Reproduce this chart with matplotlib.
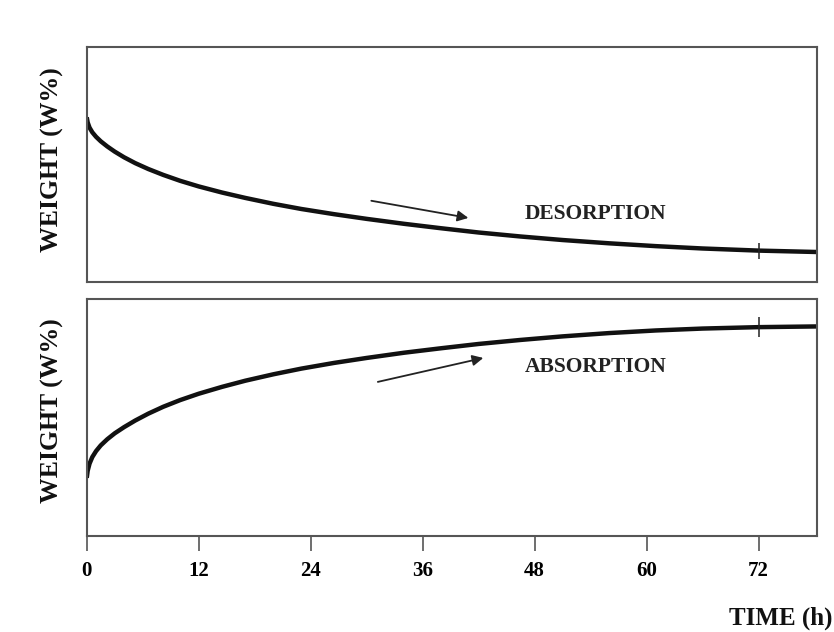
import matplotlib.pyplot as plt

# desorption curve (hours, relative weight)
des_t = [0, 0.1, 0.3, 0.6, 1, 1.5, 2.2, 3, 4, 5.2, 6.6, 8.2, 10, 12, 14.5, 17, 20, 23, 26.5, 30,
         34, 38, 42, 46.5, 51, 56, 61, 66, 72, 78.3]
des_w = [70, 67.8, 65.6, 63.6, 61.7, 59.8, 57.6, 55.4, 53.0, 50.5, 48.0, 45.5, 43.0, 40.6, 38.0, 35.7, 33.2, 31.0, 28.8, 26.8,
         24.7, 22.8, 21.0, 19.3, 17.8, 16.4, 15.2, 14.2, 13.3, 12.7]

# absorption curve
abs_t = [0, 0.1, 0.3, 0.6, 1, 1.5, 2.2, 3, 4, 5.2, 6.6, 8.2, 10, 12, 14.5, 17, 20, 23, 26.5, 30,
         34, 38, 42, 46.5, 51, 56, 61, 66, 72, 78.3]
abs_w = [24.5, 27.5, 30.5, 33.3, 35.8, 38.2, 40.8, 43.3, 45.9, 48.7, 51.6, 54.5, 57.3, 60.0, 62.9, 65.5, 68.2, 70.6, 73.0, 75.1,
         77.3, 79.2, 81.0, 82.7, 84.2, 85.6, 86.7, 87.5, 88.1, 88.4]

xticks = [0, 12, 24, 36, 48, 60, 72]
mark_t = 72

plt.rcParams['font.family'] = ['Liberation Serif', 'DejaVu Serif']
plt.rcParams['font.weight'] = 'bold'

fig = plt.figure(figsize=(8.34, 6.32), dpi=100)
ax1 = fig.add_axes([0.104, 0.554, 0.876, 0.372])
ax2 = fig.add_axes([0.104, 0.152, 0.876, 0.375])

spine_col = '#555555'
for ax in (ax1, ax2):
    ax.set_xlim(0, 78.3)
    ax.set_ylim(0, 100)
    ax.set_yticks([])
    for s in ax.spines.values():
        s.set_color(spine_col)
        s.set_linewidth(1.5)

ax1.set_xticks([])
ax2.set_xticks(xticks)
ax2.set_xticklabels([str(t) for t in xticks], fontsize=15, fontweight='bold')
ax2.tick_params(axis='x', direction='out', length=11, width=1.2, color=spine_col, pad=7)

line_kw = dict(color='#111111', lw=3.2, solid_capstyle='butt', solid_joinstyle='round')
ax1.plot(des_t, des_w, **line_kw)
ax2.plot(abs_t, abs_w, **line_kw)

# small vertical marks on the curves at 72 h
ax1.plot([mark_t], [des_w[des_t.index(mark_t)]], marker='|', ms=12, mew=1.1, color='#222222')
ax2.plot([mark_t], [abs_w[abs_t.index(mark_t)]], marker='|', ms=14, mew=1.1, color='#222222')

arrow = dict(arrowstyle='-|>', color='#222222', lw=1.3, mutation_scale=16, shrinkA=0, shrinkB=0)
ax1.annotate('', xy=(40.9, 27.2), xytext=(30.5, 34.5), arrowprops=arrow)
ax2.annotate('', xy=(42.5, 75.1), xytext=(31.2, 65.0), arrowprops=arrow)

ax1.text(54.5, 28.9, 'DESORPTION', fontsize=15.5, fontweight='bold', ha='center', va='center', color='#222222')
ax2.text(54.5, 71.3, 'ABSORPTION', fontsize=15.5, fontweight='bold', ha='center', va='center', color='#222222')

fig.text(0.063, 0.747, 'WEIGHT (W%)', rotation=90, fontsize=18.5, fontweight='bold', ha='center', va='center', color='#111111')
fig.text(0.063, 0.35, 'WEIGHT (W%)', rotation=90, fontsize=18.5, fontweight='bold', ha='center', va='center', color='#111111')
fig.text(0.998, 0.022, 'TIME (h)', fontsize=18, fontweight='bold', ha='right', va='center', color='#111111')

fig.savefig('out.png', dpi=100)
